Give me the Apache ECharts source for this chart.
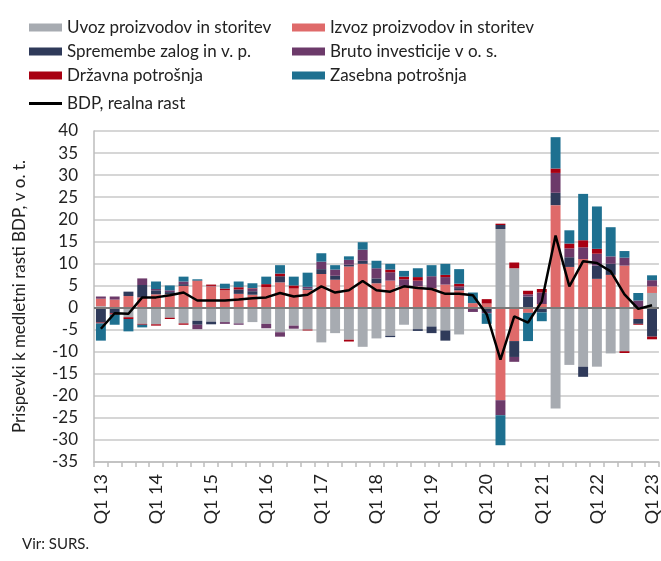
<!DOCTYPE html>
<html>
<head>
<meta charset="utf-8">
<script src="https://cdn.jsdelivr.net/npm/echarts@6/dist/echarts.min.js"></script>
<style>
html,body{margin:0;padding:0;background:#fff;}
#c{width:661px;height:561px;}
</style>
</head>
<body>
<div id="c"></div>
<script>
var categories = ['Q1 13','Q2 13','Q3 13','Q4 13','Q1 14','Q2 14','Q3 14','Q4 14','Q1 15','Q2 15','Q3 15','Q4 15','Q1 16','Q2 16','Q3 16','Q4 16','Q1 17','Q2 17','Q3 17','Q4 17','Q1 18','Q2 18','Q3 18','Q4 18','Q1 19','Q2 19','Q3 19','Q4 19','Q1 20','Q2 20','Q3 20','Q4 20','Q1 21','Q2 21','Q3 21','Q4 21','Q1 22','Q2 22','Q3 22','Q4 22','Q1 23'];
var uvoz = [0.3,0,-2.2,-3.7,-3.8,-2.3,-3.6,-3.0,-3.2,-3.3,-3.6,-3.3,-3.7,-5.6,-4.1,-5.0,-7.9,-5.8,-7.3,-8.9,-7.0,-6.4,-3.9,-4.9,-4.3,-5.2,-6.1,0,0,17.8,8.9,0,0,-22.9,-13.0,-13.4,-13.4,-10.4,-9.9,0,3.3];
var izvoz = [1.7,1.8,2.6,2.3,3.0,3.0,4.9,6.0,4.8,3.9,3.1,2.9,4.6,5.7,4.3,4.0,7.6,6.3,9.3,9.9,5.5,6.1,4.9,4.8,4.4,5.2,3.9,1.0,0.9,-21.0,-7.6,-1.2,0.8,23.2,9.2,11.0,6.5,7.4,9.5,-2.6,1.5];
var zaloge = [-3.4,-1.3,1.0,2.8,0.9,0.5,0.4,-0.9,-0.6,0,1.0,0.8,0,1.4,0,0.3,1.1,0.9,0.4,0.7,1.1,-0.3,0,-0.4,-1.5,-2.3,0.5,0,-1.0,0.9,-3.6,2.5,-1.1,2.8,2.2,-2.3,3.0,2.5,0,-1.1,-6.6];
var investicije = [0.5,0.7,0,1.5,0.3,0.4,0.6,-1.0,0.1,-0.4,-0.3,0.6,-1.0,-1.0,-0.7,0.4,1.7,1.4,1.1,2.5,2.3,1.9,1.5,1.3,2.7,1.7,0.4,-1.0,-0.3,-3.4,-1.1,0.5,2.6,4.5,2.0,2.65,2.7,1.7,1.8,1.6,1.4];
var drzavna = [-0.2,-0.3,-0.4,-0.2,-0.3,-0.3,-0.3,0.1,0.3,0.4,0.5,0.1,0.7,0.6,0.7,-0.2,0,0,-0.4,0,0,0.6,0.6,0.8,0,0.5,0.6,0,1.0,0.3,1.3,0.8,0.8,1.0,1.1,1.6,1.1,0,-0.4,-0.2,-0.6];
var zasebna = [-3.9,-2.3,-2.8,-0.6,1.7,1.1,1.1,0.3,0,1.1,1.3,1.1,1.7,1.9,2.0,3.2,1.9,1.0,0.8,1.7,1.7,1.3,1.3,2.0,2.5,2.5,3.3,2.4,-2.4,-6.8,0,-6.4,-2.0,7.1,3.0,10.5,9.6,6.6,1.5,1.7,1.1];
var bdp = [-4.8,-1.3,-1.4,2.3,2.3,2.8,3.4,1.6,1.6,1.6,1.8,2.1,2.3,3.3,2.5,2.9,4.8,3.4,3.9,6.0,3.9,3.6,4.8,4.4,4.2,3.1,3.1,2.8,-1.5,-11.8,-2.0,-3.4,1.4,16.3,4.8,10.5,10.1,8.2,3.0,-0.3,0.5];
var yTicks = {min:-35, max:40, interval:5};

var names = ['Uvoz proizvodov in storitev','Izvoz proizvodov in storitev','Spremembe zalog in v. p.','Bruto investicije v o. s.','Državna potrošnja','Zasebna potrošnja','BDP, realna rast'];
var colors = ['#a7abb1','#df6a6a','#2f3a5a','#6c3a6a','#a80012','#1e7090','#000000'];
var FONT = "Lato, sans-serif";
var comps = [uvoz, izvoz, zaloge, investicije, drzavna, zasebna];

var series = comps.map(function(d,i){
  return {name:names[i], type:'bar', stack:'total', data:d, barWidth:'72%',
    itemStyle:{color:colors[i]}, emphasis:{disabled:true}};
});
series[0].markLine = {silent:true, symbol:'none', label:{show:false},
  lineStyle:{color:'#7a7a7a', width:2, type:'solid'}, data:[{yAxis:0}], z:5};
series.push({name:names[6], type:'line', data:bdp, symbol:'none', z:10,
  lineStyle:{color:'#000', width:2.5}, itemStyle:{color:'#000'}});

var legText = {fontFamily:FONT, fontSize:17, color:'#222', lineHeight:17};
var chart = echarts.init(document.getElementById('c'), null, {renderer:'canvas'});
chart.setOption({
  animation:false,
  backgroundColor:'#fff',
  legend:[
    {orient:'vertical', left:24, top:14, itemWidth:33, itemHeight:8, itemGap:7, selectedMode:false,
     data:[names[0],names[2],names[4]], textStyle:legText, icon:'rect'},
    {orient:'vertical', left:287, top:14, itemWidth:33, itemHeight:8, itemGap:7, selectedMode:false,
     data:[names[1],names[3],names[5]], textStyle:legText, icon:'rect'},
    {orient:'vertical', left:24, top:90, itemWidth:33, itemHeight:8, selectedMode:false,
     data:[{name:names[6], icon:'path://M0,0 L33,0 L33,3 L0,3 Z'}], textStyle:legText}
  ],
  grid:{left:94, top:131, width:567, height:331, containLabel:false},
  xAxis:{type:'category', data:categories, boundaryGap:true,
    axisLine:{onZero:false, lineStyle:{color:'#bdbdbd', width:1.5}},
    axisTick:{show:true, interval:0, length:5, lineStyle:{color:'#bdbdbd', width:1.5}},
    axisLabel:{interval:3, rotate:90, margin:12, fontFamily:FONT, fontSize:18, color:'#222'},
    splitLine:{show:false}},
  yAxis:{type:'value', min:yTicks.min, max:yTicks.max, interval:yTicks.interval,
    name:'Prispevki k medletni rasti BDP, v o. t.', nameLocation:'middle', nameGap:66,
    nameTextStyle:{fontFamily:FONT, fontSize:17, color:'#222'},
    axisLine:{show:true, lineStyle:{color:'#bdbdbd', width:1.5}},
    axisTick:{show:false},
    axisLabel:{margin:16, fontFamily:FONT, fontSize:17, color:'#222'},
    splitLine:{lineStyle:{color:'#c8c8c8', width:1.5}}},
  graphic:[{type:'text', left:22, top:537, style:{text:'Vir: SURS.', fontFamily:FONT, fontSize:15, fill:'#222'}}],
  series:series
});
</script>
</body>
</html>
